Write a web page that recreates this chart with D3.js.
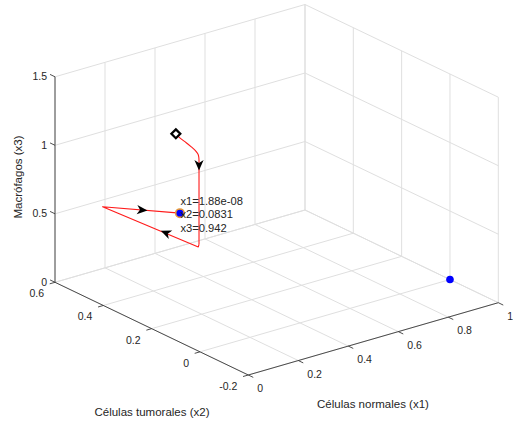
<!DOCTYPE html>
<html><head><meta charset="utf-8">
<script src="https://cdn.jsdelivr.net/npm/d3@7"></script>
<style>
body{margin:0;background:#fff}
svg{display:block}
text{font-family:"Liberation Sans",Arial,Helvetica,sans-serif;fill:#262626}
</style>
</head><body>
<script>
// ---- data ----
const x1Ticks = [0, 0.2, 0.4, 0.6, 0.8, 1];
const x2Ticks = [-0.2, 0, 0.2, 0.4, 0.6];
const x3Ticks = [0, 0.5, 1, 1.5];
const x1Labels = ["0", "0.2", "0.4", "0.6", "0.8", "1"];
const x2Labels = ["-0.2", "0", "0.2", "0.4", "0.6"];
const x3Labels = ["0", "0.5", "1", "1.5"];

// trajectory (x1, x2, x3)
const trajX1 = [0.005, 0.004, 0.003, 0.002, 0.001, 0, 0, 0, 0, 0, 0, 0];
const trajX2 = [0.105, 0.085, 0.060, 0.038, 0.020, 0.009, 0.005, 0.004, 0.004, 0.007, 0.403, 0.0831];
const trajX3 = [1.5, 1.484, 1.474, 1.463, 1.452, 1.438, 1.418, 1.39, 0.78, 0.76, 0.718, 0.942];

// direction arrows: position and direction (3D)
const arrowX1 = [0, 0, 0];
const arrowX2 = [0.004, 0.141, 0.240];
const arrowX3 = [1.36, 0.749, 0.832];
const arrowD1 = [0, 0, 0];
const arrowD2 = [0, 0.399, -0.32];
const arrowD3 = [-1, -0.047, 0.224];

const startPoint = [0.005, 0.105, 1.5];
const endPoint = [1.88e-8, 0.0831, 0.942];
const eqPoint = [1, 0, 0];
const tipLines = ["x1=1.88e-08", "x2=0.0831", "x3=0.942"];

const axisTitles = ["Células normales (x1)", "Células tumorales (x2)", "Macrófagos (x3)"];

// ---- scales & projection ----
const W = 513, H = 428;
const s1 = d3.scaleLinear().domain([0, 1]).range([0, 1]);
const s2 = d3.scaleLinear().domain([-0.2, 0.6]).range([0, 1]);
const s3 = d3.scaleLinear().domain([0, 1.5]).range([0, 1]);
const B = [248.3, 375];
const e1 = [250, -72.3], e2 = [-193.3, -92.7], e3 = [0, -205.5];
function P(a, b, c) {
  const u = s1(a), v = s2(b), w = s3(c);
  return [B[0] + u*e1[0] + v*e2[0] + w*e3[0], B[1] + u*e1[1] + v*e2[1] + w*e3[1]];
}
function unit(v){ const l = Math.hypot(v[0], v[1]); return [v[0]/l, v[1]/l]; }

const svg = d3.select("body").append("svg").attr("width", W).attr("height", H);

const gridColor = "#dfdfdf";
const grid = svg.append("g").attr("stroke", gridColor).attr("stroke-width", 1).attr("fill", "none");
function seg(g, p, q) { g.append("line").attr("x1", p[0]).attr("y1", p[1]).attr("x2", q[0]).attr("y2", q[1]); }

// floor
x1Ticks.forEach(t => seg(grid, P(t, -0.2, 0), P(t, 0.6, 0)));
x2Ticks.forEach(t => seg(grid, P(0, t, 0), P(1, t, 0)));
// wall x2 = 0.6
x1Ticks.forEach(t => seg(grid, P(t, 0.6, 0), P(t, 0.6, 1.5)));
x3Ticks.forEach(t => seg(grid, P(0, 0.6, t), P(1, 0.6, t)));
// wall x1 = 1
x2Ticks.forEach(t => seg(grid, P(1, t, 0), P(1, t, 1.5)));
x3Ticks.forEach(t => seg(grid, P(1, -0.2, t), P(1, 0.6, t)));

// axes
const ax = svg.append("g").attr("stroke", "#3a3a3a").attr("stroke-width", 0.9).attr("fill", "none");
seg(ax, P(0, -0.2, 0), P(0, 0.6, 0));
seg(ax, P(0, -0.2, 0), P(1, -0.2, 0));
seg(ax, P(0, 0.6, 0), P(0, 0.6, 1.5));

const tl = 5.5;
const d2 = unit(e2), d1 = unit(e1);
x3Ticks.forEach(t => { const p = P(0, 0.6, t); seg(ax, p, [p[0] + d2[0]*tl, p[1] + d2[1]*tl]); });
x2Ticks.forEach(t => { const p = P(0, t, 0); seg(ax, p, [p[0] - d1[0]*tl, p[1] - d1[1]*tl]); });
x1Ticks.forEach(t => { const p = P(t, -0.2, 0); seg(ax, p, [p[0] - d2[0]*tl, p[1] - d2[1]*tl]); });

// tick labels
const fs = 10.5;
const lab = svg.append("g").attr("font-size", fs);
x3Ticks.forEach((t, i) => { const p = P(0, 0.6, t);
  lab.append("text").attr("x", p[0] - 8).attr("y", p[1] + 3.5).attr("text-anchor", "end").text(x3Labels[i]); });
x2Ticks.forEach((t, i) => { const p = P(0, t, 0);
  lab.append("text").attr("x", p[0] - 11).attr("y", p[1] + 15).attr("text-anchor", "end").text(x2Labels[i]); });
x1Ticks.forEach((t, i) => { const p = P(t, -0.2, 0);
  lab.append("text").attr("x", p[0] + 9).attr("y", p[1] + 17).attr("text-anchor", "start").text(x1Labels[i]); });

// axis titles
const tf = 11.5;
svg.append("text").attr("x", 373).attr("y", 407.5).attr("text-anchor", "middle").attr("font-size", tf).text(axisTitles[0]);
svg.append("text").attr("x", 152).attr("y", 416).attr("text-anchor", "middle").attr("font-size", tf).text(axisTitles[1]);
svg.append("text").attr("transform", "translate(22,177) rotate(-90)").attr("text-anchor", "middle").attr("font-size", tf).text(axisTitles[2]);

// trajectory
const pts = trajX1.map((v, i) => P(v, trajX2[i], trajX3[i]));
svg.append("path").attr("d", d3.line().curve(d3.curveMonotoneY)(pts.slice(0, 9)) ).attr("fill", "none").attr("stroke", "#ff1a1a").attr("stroke-width", 1.1);
svg.append("path").attr("d", d3.line()(pts.slice(8))).attr("fill", "none").attr("stroke", "#ff1a1a").attr("stroke-width", 1.1).attr("stroke-linejoin", "round");

// arrows
arrowX1.forEach((v, i) => {
  const p = P(v, arrowX2[i], arrowX3[i]);
  const q = P(v + arrowD1[i]*0.01, arrowX2[i] + arrowD2[i]*0.01, arrowX3[i] + arrowD3[i]*0.01);
  const ang = Math.atan2(q[1] - p[1], q[0] - p[0]) * 180 / Math.PI;
  svg.append("path").attr("d", "M5.5,0 L-5,-4.6 L-2,0 L-5,4.6 Z")
    .attr("transform", `translate(${p[0]},${p[1]}) rotate(${ang})`).attr("fill", "#000");
});

// start diamond
const sp = P(...startPoint);
svg.append("path").attr("d", d3.symbol(d3.symbolDiamond2, 50)())
  .attr("transform", `translate(${sp[0]},${sp[1]})`).attr("fill", "#fff").attr("stroke", "#000").attr("stroke-width", 2.3);

// equilibrium point
const eq = P(...eqPoint);
svg.append("circle").attr("cx", eq[0]).attr("cy", eq[1]).attr("r", 3.8).attr("fill", "#0000ff");

// end point w/ datatip
const ep = P(...endPoint);
svg.append("circle").attr("cx", ep[0]).attr("cy", ep[1]).attr("r", 4.2).attr("fill", "#0000ff").attr("stroke", "#e69a3c").attr("stroke-width", 1.6);
const tip = svg.append("g").attr("font-size", 11.2);
tipLines.forEach((s, i) => tip.append("text").attr("x", ep[0] + 0.5).attr("y", ep[1] - 8 + i*13.3).text(s));
</script>
</body></html>
